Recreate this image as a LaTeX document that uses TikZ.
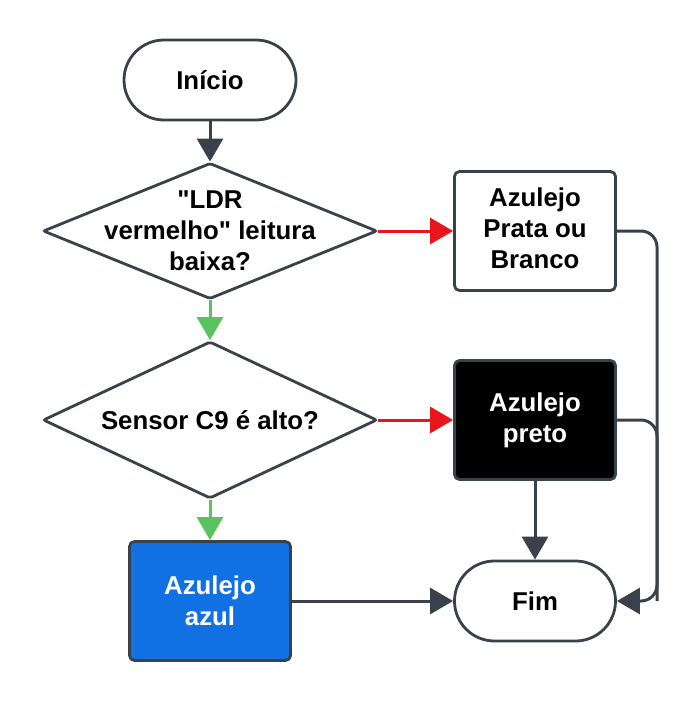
\documentclass[tikz,border=0pt]{standalone}
\usepackage{fontspec}
\setmainfont{Liberation Sans}[Ligatures=TeXOff]
\usetikzlibrary{shapes.geometric,arrows.meta}

\definecolor{ink}{HTML}{3B414B}
\definecolor{yesred}{HTML}{E8161B}
\definecolor{nogreen}{HTML}{59C35F}
\definecolor{tileblue}{HTML}{1171E3}

\tikzset{
  lbl/.style={font=\bfseries\fontsize{25.8}{31}\selectfont, align=center},
  terminal/.style={draw=ink, line width=2.8pt, fill=white, rounded corners=40pt,
    minimum width=172pt, minimum height=80pt, lbl},
  procbox/.style={draw=ink, line width=2.8pt, fill=white, rounded corners=5pt,
    minimum width=161pt, minimum height=119pt, lbl},
  decision/.style={diamond, draw=ink, line width=2.8pt, fill=white, rounded corners=2pt,
    inner sep=0pt},
  flow/.style={draw=ink, line width=3pt, -{Triangle[length=23pt,width=26pt]}},
  yesflow/.style={draw=yesred, line width=3pt, -{Triangle[length=23pt,width=26pt,fill=yesred]}},
  noflow/.style={draw=nogreen, line width=3pt, -{Triangle[length=23pt,width=26pt,fill=nogreen]}},
}

\begin{document}
\begin{tikzpicture}[x=1pt,y=-1pt]
  \useasboundingbox[fill=white] (0,0) rectangle (696,701);

  % start / end
  \node[terminal] (start) at (210,80) {Início};
  \node[terminal, minimum width=161pt] (fim) at (535,601) {Fim};

  % decisions
  \node[decision, minimum width=334pt, minimum height=136pt] (d1) at (210,231) {};
  \node[lbl] (d1t) at (d1.center) {"LDR\\vermelho" leitura\\baixa?};
  \node[decision, minimum width=334pt, minimum height=157pt] (d2) at (210,420) {};
  \node[lbl] (d2t) at (d2.center) {Sensor C9 é alto?};

  % outcomes
  \node[procbox] (prata) at (535,231) {};
  \node[lbl] (pratat) at ([yshift=3pt]prata.center) {Azulejo\\Prata ou\\Branco};
  \node[procbox, fill=black, text=white] (preto) at (535,420) {Azulejo\\preto};
  \node[procbox, fill=tileblue, text=white] (azul) at (210,601) {Azulejo\\azul};

  \coordinate (rail) at (657,601);

  % connectors
  \draw[flow] (start) -- (d1);
  \draw[yesflow] (d1.east) -- (prata.west);
  \draw[noflow] (d1.south) -- (d2.north);
  \draw[yesflow] (d2.east) -- (preto.west);
  \draw[noflow] (d2.south) -- (azul.north);
  \draw[flow] (preto.south) -- (fim.north);
  \draw[flow] (azul.east) -- (fim.west);
  \draw[draw=ink, line width=3pt, rounded corners=16pt] (preto.east) -| (rail);
  \draw[flow, rounded corners=16pt] (prata.east) -| (rail) -- (fim.east);
\end{tikzpicture}
\end{document}
